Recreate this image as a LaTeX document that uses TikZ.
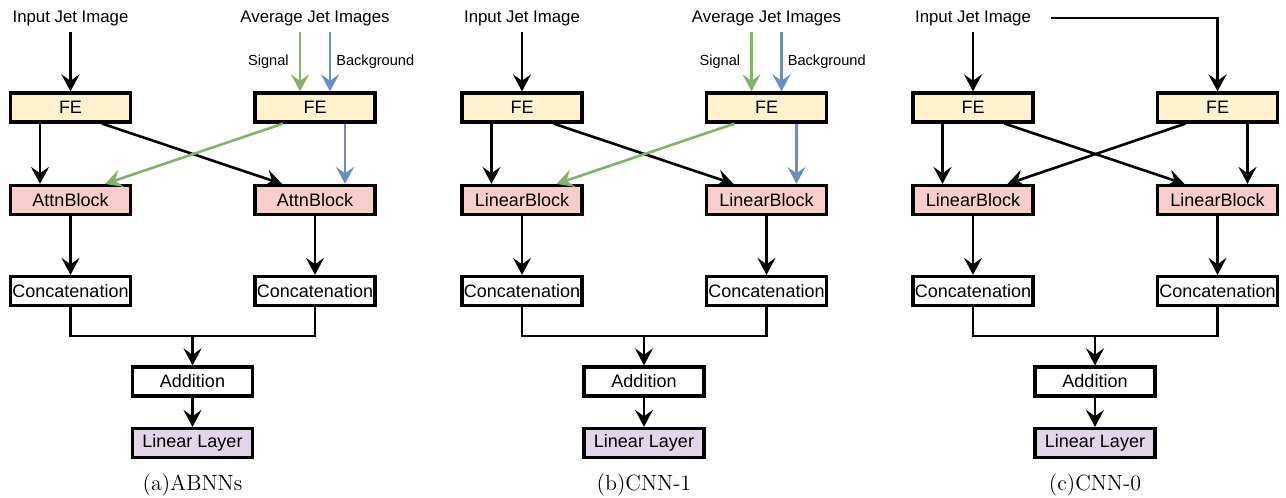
\documentclass[tikz,border=0pt]{standalone}
\usepackage{fontspec}
\newfontfamily\drawfont{Liberation Sans}
\usetikzlibrary{arrows.meta, positioning}
\definecolor{feyellow}{HTML}{FFF2CC}
\definecolor{blockred}{HTML}{F8CECC}
\definecolor{layerpurple}{HTML}{E1D5E7}
\definecolor{siggreen}{HTML}{82B366}
\definecolor{bkgblue}{HTML}{6C8EBF}

\begin{document}
\begin{tikzpicture}[
  x=0.5pt, y=-0.5pt,
  box/.style={
    rectangle, draw=black, line width=1.6pt, fill=#1,
    minimum width=60pt, minimum height=14.5pt, inner sep=0pt,
    font=\drawfont\fontsize{9}{10}\selectfont
  },
  box/.default=white,
  lbl/.style={font=\drawfont\fontsize{8.4}{10}\selectfont, inner sep=3pt},
  tag/.style={font=\drawfont\fontsize{7.3}{9}\selectfont, inner sep=1pt, text=black},
  captxt/.style={font=\fontsize{11}{13}\selectfont},
  arr/.style={line width=1.3pt, -{Stealth[length=8.5pt, width=9pt, inset=3.2pt]}},
  wire/.style={line width=1.3pt}
]
  \useasboundingbox (0,0) rectangle (1286,498);

  % parts shared by the three networks
  \foreach \p/\sx/\blk/\net in {a/0/AttnBlock/ABNNs, b/225.75/LinearBlock/CNN-1, c/451.25/LinearBlock/CNN-0}{
    \begin{scope}[xshift=\sx pt]
      \node[lbl] (in\p) at (70.5,18) {Input Jet Image};
      \node[box=feyellow] (fe\p1) at (70.5,107.5) {FE};
      \node[box=feyellow] (fe\p2) at (315,107.5) {FE};
      \node[box=blockred] (blk\p1) at (70.5,200) {\blk};
      \node[box=blockred] (blk\p2) at (315,200) {\blk};
      \node[box] (cat\p1) at (70.5,291) {Concatenation};
      \node[box] (cat\p2) at (315,291) {Concatenation};
      \node[box] (add\p) at (192.5,381.5) {Addition};
      \node[box=layerpurple] (lin\p) at (192.5,443) {Linear Layer};
      \node[captxt] (cap\p) at (192.5,485) {(\p)\net};
      \coordinate (join\p) at (192.5,336);
    \end{scope}

    \draw[arr] (in\p) -- (fe\p1);
    \draw[arr] ([xshift=-15.25pt]fe\p1.south) -- ([xshift=-15.25pt]blk\p1.north);
    \draw[arr] ([xshift=15.75pt]fe\p1.south) -- ([xshift=-16.5pt]blk\p2.north);
    \draw[arr] (blk\p1) -- (cat\p1);
    \draw[arr] (blk\p2) -- (cat\p2);
    \draw[wire] (cat\p1.south) |- (join\p) -| (cat\p2.south);
    \draw[arr] (join\p) -- (add\p);
    \draw[arr] (add\p) -- (lin\p);
  }

  % average jet images feed the second branch
  \foreach \p in {a,b}{
    \node[lbl] (avg\p) at (fe\p2 |- in\p) {Average Jet Images};
    \draw[arr, siggreen] ([xshift=-7.5pt]avg\p.south) -- node[tag, left=4pt] {Signal} ([xshift=-7.5pt]fe\p2.north);
    \draw[arr, bkgblue] ([xshift=7.5pt]avg\p.south) -- node[tag, right=1.5pt] {Background} ([xshift=7.5pt]fe\p2.north);
    \draw[arr, siggreen] ([xshift=-16pt]fe\p2.south) -- ([xshift=17.25pt]blk\p1.north);
    \draw[arr, bkgblue] ([xshift=15pt]fe\p2.south) -- ([xshift=15pt]blk\p2.north);
  }

  % CNN-0: the same input goes to both branches
  \draw[arr] ([xshift=7pt]inc.east) -| (fec2);
  \draw[arr] ([xshift=-16pt]fec2.south) -- ([xshift=17.25pt]blkc1.north);
  \draw[arr] ([xshift=15pt]fec2.south) -- ([xshift=15pt]blkc2.north);
\end{tikzpicture}
\end{document}
